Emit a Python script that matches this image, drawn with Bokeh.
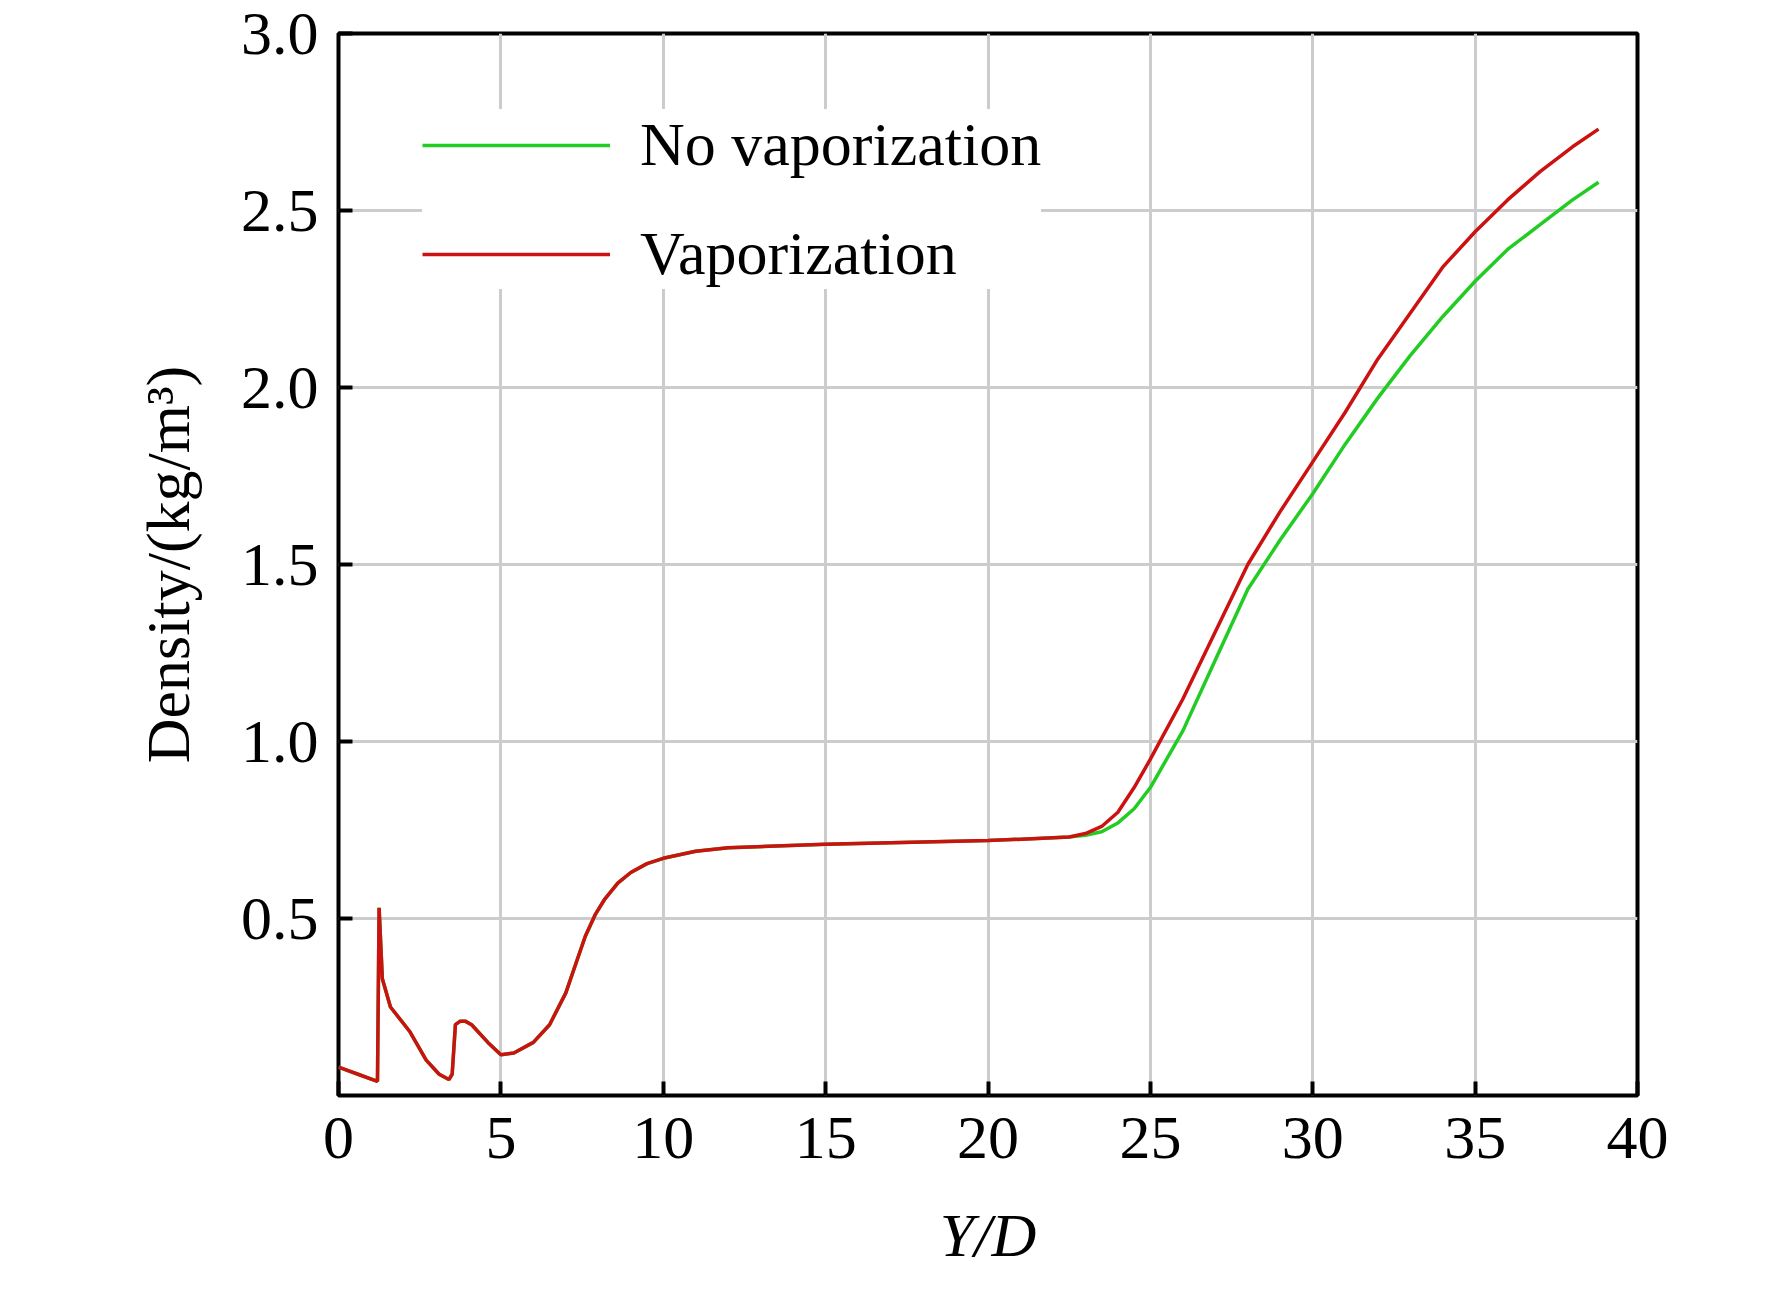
from bokeh.plotting import figure
from bokeh.models import FixedTicker, Legend, LegendItem, Range1d
from bokeh.embed import file_html
from bokeh.resources import INLINE

common_x = [0, 0.6, 1.2, 1.25, 1.35, 1.6, 2.2, 2.7, 3.1, 3.4, 3.5, 3.6, 3.75, 3.9, 4.1, 4.6, 5.0, 5.4, 6.0, 6.5, 7.0, 7.3, 7.6, 7.9, 8.2, 8.6, 9.0, 9.5, 10, 11, 12, 15, 20, 22.5]
common_y = [0.08, 0.06, 0.04, 0.53, 0.33, 0.25, 0.18, 0.10, 0.06, 0.045, 0.06, 0.20, 0.21, 0.21, 0.20, 0.15, 0.115, 0.12, 0.15, 0.20, 0.29, 0.37, 0.45, 0.51, 0.555, 0.60, 0.63, 0.655, 0.67, 0.69, 0.70, 0.71, 0.72, 0.73]
red_x = common_x + [23, 23.5, 24, 24.5, 25, 26, 27, 28, 29, 30, 31, 32, 33, 34, 35, 36, 37, 38, 38.8]
red_y = common_y + [0.74, 0.76, 0.80, 0.87, 0.95, 1.12, 1.31, 1.50, 1.65, 1.79, 1.93, 2.08, 2.21, 2.34, 2.44, 2.53, 2.61, 2.68, 2.73]
green_x = common_x + [23, 23.5, 24, 24.5, 25, 26, 27, 28, 29, 30, 31, 32, 33, 34, 35, 36, 37, 38, 38.8]
green_y = common_y + [0.735, 0.745, 0.77, 0.81, 0.87, 1.03, 1.23, 1.43, 1.57, 1.70, 1.84, 1.97, 2.09, 2.20, 2.30, 2.39, 2.46, 2.53, 2.58]
x_ticks = [0, 5, 10, 15, 20, 25, 30, 35, 40]
y_ticks = [0.5, 1.0, 1.5, 2.0, 2.5, 3.0]
y_labels = ["0.5", "1.0", "1.5", "2.0", "2.5", "3.0"]

FONT = "Liberation Serif"
p = figure(width=1756, height=1285, output_backend="svg", toolbar_location=None,
           x_range=Range1d(0, 40), y_range=Range1d(0, 3.0),
           min_border_left=338, min_border_right=119, min_border_top=33, min_border_bottom=190)
p.outline_line_color = "black"
p.outline_line_width = 4
for ax in (p.xaxis[0], p.yaxis[0]):
    ax.axis_line_color = None
    ax.major_tick_in = 14
    ax.major_tick_out = 0
    ax.major_tick_line_width = 4
    ax.minor_tick_line_color = None
    ax.major_label_text_font = FONT
    ax.major_label_text_font_size = "62px"
    ax.major_label_text_color = "black"
    ax.axis_label_text_font = FONT
    ax.axis_label_text_font_size = "62px"
    ax.axis_label_text_color = "black"
    ax.axis_label_text_font_style = "normal"
p.xaxis.ticker = FixedTicker(ticks=x_ticks)
p.yaxis.ticker = FixedTicker(ticks=y_ticks)
p.yaxis.major_label_overrides = dict(zip(y_ticks, y_labels))
p.xaxis.major_label_standoff = 22
p.yaxis.major_label_standoff = 20
p.xaxis.axis_label = "Y/D"
p.xaxis.axis_label_text_font_style = "italic"
p.xaxis.axis_label_standoff = 40
p.yaxis.axis_label = "Density/(kg/m³)"
p.yaxis.axis_label_standoff = 36
p.grid.grid_line_color = "#cccccc"
p.grid.grid_line_width = 3
p.xgrid.ticker = FixedTicker(ticks=x_ticks)
p.ygrid.ticker = FixedTicker(ticks=y_ticks)

g = p.line(green_x, green_y, line_color="#22cc22", line_width=3.5)
r = p.line(red_x, red_y, line_color="#cc1111", line_width=3.5)

leg = Legend(items=[LegendItem(label="No vaporization", renderers=[g]),
                    LegendItem(label="Vaporization", renderers=[r])],
             location=(84, 806), background_fill_alpha=1.0, border_line_color=None,
             label_text_font=FONT, label_text_font_size="62px", label_text_color="black",
             glyph_width=188, glyph_height=60, label_height=60, label_standoff=30,
             spacing=38, padding=10)
p.add_layout(leg, "center")

open("out.html", "w").write(file_html(p, INLINE))
